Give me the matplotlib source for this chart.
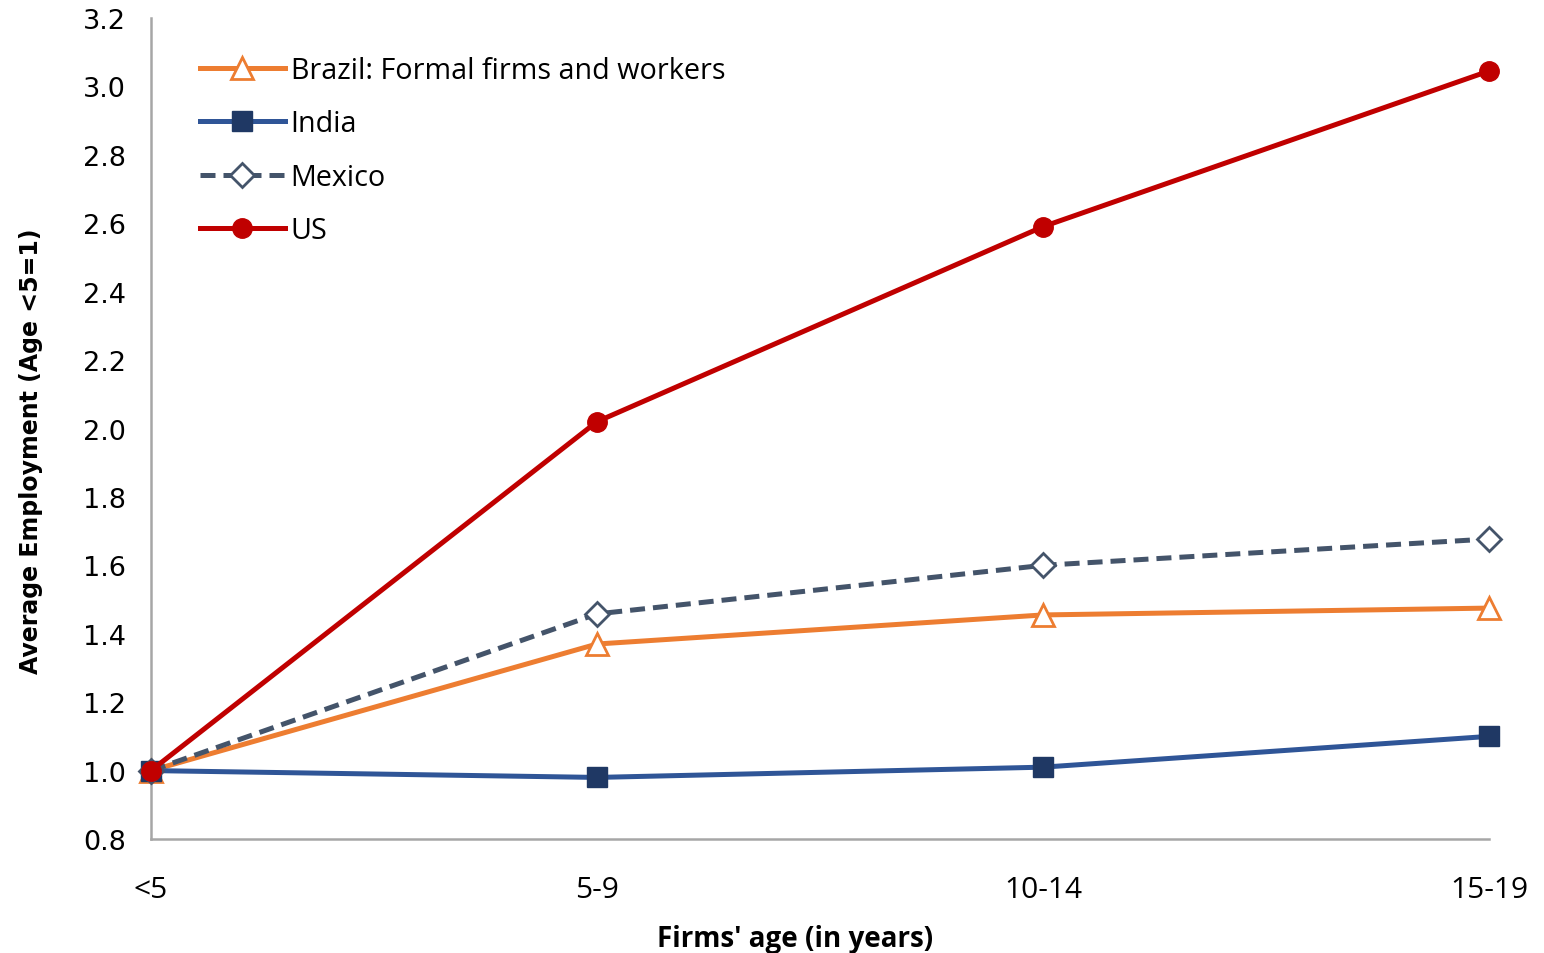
import matplotlib
matplotlib.use("Agg")
import matplotlib.pyplot as plt

categories = ["<5", "5-9", "10-14", "15-19"]
brazil = [1.00, 1.37, 1.455, 1.475]
india = [1.00, 0.98, 1.01, 1.10]
mexico = [1.00, 1.458, 1.60, 1.677]
us = [1.00, 2.02, 2.59, 3.045]
yticks = [0.8, 1.0, 1.2, 1.4, 1.6, 1.8, 2.0, 2.2, 2.4, 2.6, 2.8, 3.0, 3.2]

W, H = 1544, 954
fig = plt.figure(figsize=(W/100, H/100), dpi=100)
ax = fig.add_axes([151/W, 1 - 840/H, (1489-151)/W, (840-19)/H])

x = range(len(categories))
lw = 3.6
ax.plot(x, brazil, color="#ED7D31", lw=lw, marker="^", ms=16, mfc="white",
        mec="#ED7D31", mew=2, label="Brazil: Formal firms and workers", zorder=3, clip_on=False)
ax.plot(x, india, color="#2F5597", lw=lw, marker="s", ms=14, mfc="#1F3864",
        mec="#1F3864", label="India", zorder=4, clip_on=False)
ax.plot(x, mexico, color="#44546A", lw=lw, ls=(0, (3, 1.6)), marker="D", ms=12, mfc="white",
        mec="#44546A", mew=2, label="Mexico", zorder=5, clip_on=False)
ax.plot(x, us, color="#C00000", lw=lw, marker="o", ms=14, mfc="#C00000",
        mec="#C00000", label="US", zorder=6, clip_on=False)

ax.set_xlim(0, 3)
ax.set_ylim(0.8, 3.2)
ax.set_xticks(list(x))
ax.set_xticklabels(categories, fontsize=21.5, family=["Open Sans", "DejaVu Sans"])
ax.set_yticks(yticks)
ax.set_yticklabels([f"{v:.1f}" for v in yticks], fontsize=19.5, family="DejaVu Sans")
ax.tick_params(axis="y", length=0, pad=18)
ax.tick_params(axis="x", length=0, pad=26)
for s in ["top", "right"]:
    ax.spines[s].set_visible(False)
for s in ["left", "bottom"]:
    ax.spines[s].set_color("#A6A6A6")
    ax.spines[s].set_linewidth(1.8)

ax.set_xlabel("Firms' age (in years)", fontsize=20, fontweight="bold",
              family=["Open Sans", "DejaVu Sans"])
ax.xaxis.set_label_coords((795-151)/1338, -(940-840)/821)
ax.xaxis.label.set_va("center")
ax.set_ylabel("Average Employment (Age <5=1)", fontsize=17, fontweight="bold",
              family=["DejaVu Sans"])
ax.yaxis.set_label_coords((43-151)/1338, (840-451)/821)

leg = ax.legend(loc="upper left", bbox_to_anchor=(200/W, 1-57/H),
                bbox_transform=fig.transFigure, frameon=False, borderpad=0,
                borderaxespad=0,
                prop={"family": "Open Sans", "size": 20.7}, handlelength=2.95,
                handletextpad=0.2, labelspacing=0.85, markerscale=1.0)

fig.savefig("out.png", dpi=100, facecolor="white")
